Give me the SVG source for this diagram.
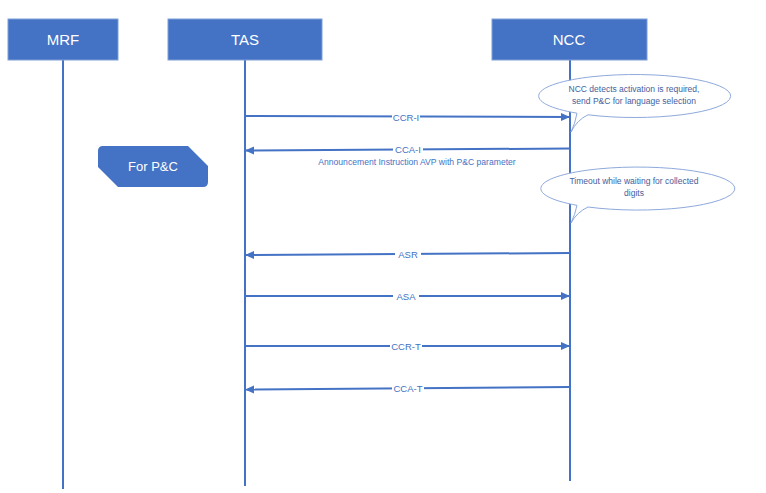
<svg xmlns="http://www.w3.org/2000/svg" width="766" height="493" viewBox="0 0 766 493">
<defs>
<marker id="ah" markerWidth="10" markerHeight="10" refX="9" refY="5" orient="auto" markerUnits="userSpaceOnUse">
<path d="M0,1 L9,5 L0,9 Z" fill="#4472C4"/>
</marker>
<style>
.box{fill:#4472C4;stroke:#7F9FD6;stroke-width:1}
.btxt{fill:#FFFFFF;font-family:"Liberation Sans",Arial,sans-serif;font-size:15px;text-anchor:middle}
.life{stroke:#4472C4;stroke-width:2;fill:none}
.msg{stroke:#4472C4;stroke-width:2;fill:none;marker-end:url(#ah)}
.lbg{fill:#FFFFFF}
.ltxt{fill:#4472C4;font-family:"Liberation Sans",Arial,sans-serif;font-size:9.5px;text-anchor:middle}
.call{fill:#FFFFFF;stroke:#8EA9DB;stroke-width:1}
.ctxt{fill:#44609C;font-family:"Liberation Sans",Arial,sans-serif;font-size:8.5px;text-anchor:middle}
</style>
</defs>
<rect width="766" height="493" fill="#FFFFFF"/>

<g id="lifelines">
<line class="life" x1="63" y1="60" x2="63" y2="489"/>
<line class="life" x1="245" y1="60" x2="245" y2="486"/>
<line class="life" x1="570" y1="60" x2="570" y2="481"/>
</g>

<g id="MRF">
<rect class="box" x="8" y="19" width="110" height="41"/>
<text class="btxt" x="63" y="45">MRF</text>
</g>
<g id="TAS">
<rect class="box" x="168" y="19" width="154" height="41"/>
<text class="btxt" x="245" y="45">TAS</text>
</g>
<g id="NCC">
<rect class="box" x="492" y="19" width="155" height="41"/>
<text class="btxt" x="569" y="45">NCC</text>
</g>

<g id="forPC">
<path d="M103,146 L188,146 L208,166 L208,182 Q208,187 203,187 L118,187 L98,167 L98,151 Q98,146 103,146 Z" fill="#4472C4"/>
<text x="153" y="171" fill="#FFFFFF" font-family="Liberation Sans, Arial, sans-serif" font-size="13" text-anchor="middle">For P&amp;C</text>
</g>

<g id="callout1">
<path class="call" d="M588,114.8 A96 21.5 0 1 0 577,113.2 Q575,124 571,132 Q577,120 588,114.8 Z"/>
<text class="ctxt" x="634" y="92">NCC detects activation is required,</text>
<text class="ctxt" x="634" y="104">send P&amp;C for language selection</text>
</g>
<g id="callout2">
<path class="call" d="M588,207 A97 21.5 0 1 0 577,205.3 Q575,215 571,223 Q577,212 588,207 Z"/>
<text class="ctxt" x="634" y="184">Timeout while waiting for collected</text>
<text class="ctxt" x="634" y="196">digits</text>
</g>

<g id="connectors">
<line class="msg" x1="245" y1="116" x2="570" y2="117"/>
<rect class="lbg" x="392" y="111" width="28" height="11"/>
<text class="ltxt" x="406" y="120.5">CCR-I</text>

<line class="msg" x1="570" y1="148.5" x2="245" y2="150.5"/>
<rect class="lbg" x="393" y="144" width="30" height="11"/>
<text class="ltxt" x="408" y="153">CCA-I</text>
<text x="417" y="165" fill="#4472C4" font-family="Liberation Sans, Arial, sans-serif" font-size="8.6" text-anchor="middle">Announcement Instruction AVP with P&amp;C parameter</text>

<line class="msg" x1="570" y1="253" x2="245" y2="255"/>
<rect class="lbg" x="395" y="249" width="26" height="11"/>
<text class="ltxt" x="408" y="257.5">ASR</text>

<line class="msg" x1="245" y1="296" x2="570" y2="296"/>
<rect class="lbg" x="393" y="290" width="26" height="11"/>
<text class="ltxt" x="406" y="299.5">ASA</text>

<line class="msg" x1="245" y1="346" x2="570" y2="346"/>
<rect class="lbg" x="390" y="340" width="32" height="11"/>
<text class="ltxt" x="406" y="349.5">CCR-T</text>

<line class="msg" x1="570" y1="387" x2="245" y2="389.5"/>
<rect class="lbg" x="392" y="382" width="32" height="11"/>
<text class="ltxt" x="408" y="391.5">CCA-T</text>
</g>
</svg>
